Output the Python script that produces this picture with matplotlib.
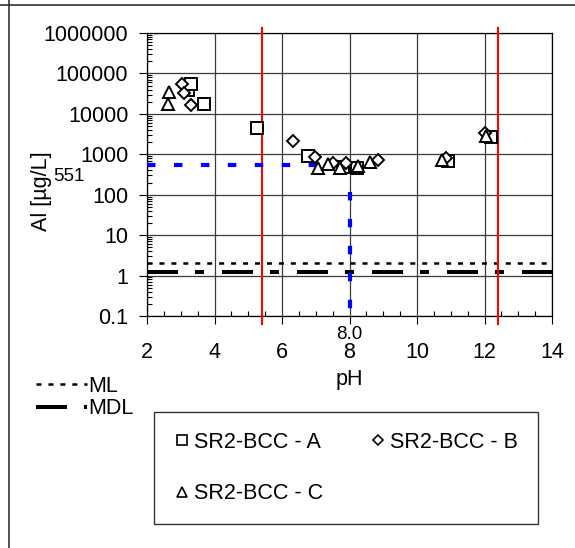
import numpy as np
import matplotlib
matplotlib.use('Agg')
import matplotlib.pyplot as plt
from matplotlib.lines import Line2D
from matplotlib.ticker import FixedLocator, MultipleLocator, LogLocator, NullFormatter

plt.rcParams['font.family'] = ['Liberation Sans', 'DejaVu Sans']
plt.rcParams['lines.scale_dashes'] = False

# ---- data ----
ph_a = [3.22, 3.30, 3.70, 5.27, 6.78, 7.82, 8.21, 10.92, 12.18]
al_a = [40000, 55000, 18000, 4400, 900, 490, 460, 680, 2700]
ph_b = [3.04, 3.09, 3.31, 6.34, 6.99, 7.52, 7.91, 8.85, 10.85, 12.02]
al_b = [55000, 33000, 17000, 2100, 850, 620, 600, 710, 820, 3300]
ph_c = [2.62, 2.65, 7.08, 7.37, 7.72, 8.26, 8.61, 10.73, 12.04]
al_c = [18000, 34000, 460, 570, 460, 500, 630, 740, 2900]

series_labels = ['SR2-BCC - A', 'SR2-BCC - B', 'SR2-BCC - C']
ml_value = 2.0      # ML
mdl_value = 1.2     # MDL
ph_limits = [5.4, 12.4]   # red lines
target_ph = 8.0
target_al = 551

y_ticks = [0.1, 1, 10, 100, 1000, 10000, 100000, 1000000]
y_ticklabels = ['0.1', '1', '10', '100', '1000', '10000', '100000', '1000000']
x_ticks = [2, 4, 6, 8, 10, 12, 14]

W, H = 575, 548
fs = 15.5
fig = plt.figure(figsize=(W / 100, H / 100), dpi=100)
ax = fig.add_axes([147 / W, 1 - 316 / H, (552 - 147) / W, (316 - 33) / H])

# cell border lines (top + left)
fig.add_artist(Line2D([0, 1], [1 - 4.5 / H] * 2, transform=fig.transFigure, color='#333333', lw=1.2))
fig.add_artist(Line2D([8.5 / W] * 2, [0, 1], transform=fig.transFigure, color='#333333', lw=1.2))

ax.set_yscale('log')
ax.set_xlim(2, 14)
ax.set_ylim(0.1, 1000000)

# reference lines
ax.plot([2, 14], [ml_value, ml_value], color='black', lw=1.8, dashes=(3.6, 5.0), zorder=2)
ax.plot([2, 14], [mdl_value, mdl_value], color='black', lw=2.9, dashes=(22.3, 12.2, 6.5, 13.0), zorder=2)
for p in ph_limits:
    ax.plot([p, p], [0.065, 1.35e6], color='#ff0000', lw=1.5, clip_on=False, zorder=3)
ax.plot([2, target_ph], [target_al, target_al], color='#0000ff', lw=3, dashes=(6.1, 13.3), zorder=3)
ax.plot([target_ph, target_ph], [target_al, 0.1], color='#0000ff', lw=3, dashes=(6.1, 13.3), zorder=3)

# data
mk = dict(ls='none', mfc='white', mec='black', mew=1.4, zorder=4)
ax.plot(ph_a, al_a, marker='s', ms=8.5, **mk)
ax.plot(ph_b, al_b, marker='D', ms=6.4, **mk)
ax.plot(ph_c, al_c, marker='^', ms=9, **mk)

# ticks
ax.yaxis.set_major_locator(FixedLocator(y_ticks))
ax.set_yticklabels(y_ticklabels)
ax.yaxis.set_minor_locator(LogLocator(base=10, subs=np.arange(2, 10), numticks=20))
ax.yaxis.set_minor_formatter(NullFormatter())
ax.xaxis.set_major_locator(FixedLocator(x_ticks))
ax.xaxis.set_minor_locator(MultipleLocator(0.5))
ax.tick_params(which='major', direction='out', length=5.5, width=0.8, labelsize=fs, color='black')
ax.tick_params(axis='y', which='major', pad=8)
ax.tick_params(axis='x', which='major', pad=13)
ax.tick_params(which='minor', direction='in', length=3.6, width=0.8, color='black')
ax.grid(True, which='major', color='#3a3a3a', lw=0.9)
ax.set_axisbelow(True)
for s in ax.spines.values():
    s.set_color('black')
    s.set_linewidth(0.9)

ax.set_xlabel('pH', fontsize=fs)
ax.xaxis.set_label_coords(0.5, -0.186)
ax.set_ylabel('Al [µg/L]', fontsize=fs)
ax.yaxis.set_label_coords(-0.235, 0.442)

# target annotations
ax.annotate(f'{target_al}', xy=(53 / W, target_al), xycoords=('figure fraction', 'data'),
            xytext=(0, -2.5), textcoords='offset points', ha='left', va='top', fontsize=13.5)
ax.annotate(f'{target_ph:.1f}', xy=(target_ph, 0.1), xytext=(0, -13.5), textcoords='offset points',
            ha='center', va='center', fontsize=13.5, annotation_clip=False)

# ML / MDL legend
ml_h = Line2D([], [], color='black', lw=1.8, dashes=(3.6, 5.0))
mdl_h = Line2D([], [], color='black', lw=2.9, dashes=(22.3, 12.2, 6.5, 13.0))
fig.legend([ml_h, mdl_h], ['ML', 'MDL'], loc='upper left', bbox_to_anchor=(36 / W, 1 - 376 / H),
           frameon=False, fontsize=fs, handlelength=2.35, handletextpad=0.1, borderpad=0,
           borderaxespad=0, labelspacing=0.05)

# series legend (row-major: A, B on first row, C on second)
hs = [Line2D([], [], ls='none', marker='s', ms=7, mfc='white', mec='black', mew=1.2),
      Line2D([], [], ls='none', marker='D', ms=5.2, mfc='white', mec='black', mew=1.2),
      Line2D([], [], ls='none', marker='^', ms=7.5, mfc='white', mec='black', mew=1.2)]
order = [0, 2, 1]
leg = fig.legend([hs[i] for i in order], [series_labels[i] for i in order], loc='upper left',
                 bbox_to_anchor=(154 / W, 1 - 412 / H),
                 ncol=2, fontsize=fs, frameon=True, fancybox=False, edgecolor='#333333',
                 framealpha=1, borderpad=0.92, borderaxespad=0, handlelength=0.8,
                 handletextpad=0.15, columnspacing=2.15, labelspacing=1.42)
leg.get_frame().set_linewidth(1.0)

fig.savefig('out.png', dpi=100)
